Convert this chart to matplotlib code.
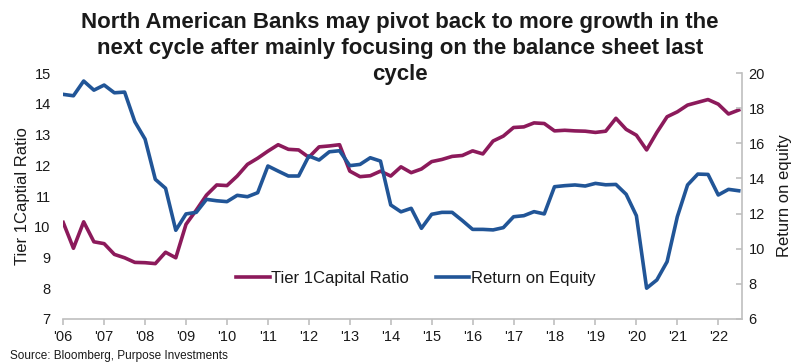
import matplotlib
matplotlib.use("Agg")
import matplotlib.pyplot as plt
import numpy as np

plt.rcParams['font.family'] = ['Liberation Sans', 'DejaVu Sans']

# quarterly series, 2006 Q1 .. 2022 Q3
tier1 = [10.14, 9.30, 10.16, 9.51, 9.45, 9.10, 8.99, 8.84, 8.83, 8.80, 9.17, 8.99,
         10.08, 10.54, 11.03, 11.36, 11.34, 11.65, 12.03, 12.23, 12.46, 12.67, 12.52,
         12.50, 12.26, 12.60, 12.63, 12.67, 11.81, 11.63, 11.66, 11.81, 11.65, 11.95,
         11.76, 11.88, 12.12, 12.19, 12.29, 12.32, 12.47, 12.37, 12.79, 12.95, 13.23,
         13.25, 13.38, 13.36, 13.12, 13.14, 13.12, 13.11, 13.07, 13.11, 13.53, 13.17,
         12.98, 12.50, 13.07, 13.58, 13.74, 13.96, 14.05, 14.14, 13.99, 13.67, 13.80]
roe = [18.79, 18.71, 19.55, 19.03, 19.32, 18.88, 18.92, 17.23, 16.24, 13.95, 13.44, 11.05,
       11.98, 12.07, 12.81, 12.73, 12.68, 13.04, 12.96, 13.19, 14.71, 14.42, 14.14,
       14.14, 15.28, 15.05, 15.52, 15.58, 14.73, 14.80, 15.18, 14.99, 12.49, 12.10,
       12.30, 11.16, 11.96, 12.07, 12.07, 11.60, 11.10, 11.10, 11.07, 11.20, 11.82,
       11.88, 12.11, 11.98, 13.53, 13.59, 13.63, 13.57, 13.72, 13.64, 13.66, 13.10,
       11.88, 7.75, 8.22, 9.26, 11.82, 13.63, 14.25, 14.23, 13.06, 13.38, 13.30]
years = list(range(2006, 2023))
year_labels = ["'%02d" % (y % 100) for y in years]

x = 2006 + np.arange(len(tier1)) / 4.0

purple = '#8C1A5B'
blue = '#215597'
grey = '#BFBFBF'
txt = '#1A1A1A'

fig = plt.figure(figsize=(8, 3.62), dpi=100)
ax = fig.add_axes([0.079, 0.119, 0.848, 0.679])
ax2 = ax.twinx()

l1, = ax.plot(x, tier1, color=purple, lw=2.6, solid_joinstyle='round', label='Tier 1Capital Ratio')
l2, = ax2.plot(x, roe, color=blue, lw=2.6, solid_joinstyle='round', label='Return on Equity')

ax.set_xlim(2006, 2022.57)
ax.set_ylim(7, 15)
ax2.set_ylim(6, 20)
ax.set_yticks(range(7, 16))
ax2.set_yticks(range(6, 21, 2))
ax.set_xticks(years)
ax.set_xticklabels(year_labels)

for a in (ax, ax2):
    for s in ('top', 'left'):
        a.spines[s].set_visible(False)
    a.spines['bottom'].set_color(grey)
    a.spines['right'].set_color(grey)
    a.spines['right'].set_linewidth(1.2)
    a.spines['bottom'].set_linewidth(1.2)
ax.spines['right'].set_visible(False)
ax2.spines['bottom'].set_visible(False)

ax.tick_params(axis='x', direction='out', length=4, color=grey, width=1.2,
               labelsize=10.5, labelcolor=txt, pad=4)
ax.tick_params(axis='y', length=0, labelsize=10.5, labelcolor=txt, pad=9)
ax2.tick_params(axis='y', direction='in', length=4, color=grey, width=1.2,
                labelsize=10.5, labelcolor=txt, pad=5)

ax.set_ylabel('Tier 1Captial Ratio', fontsize=12, color=txt, labelpad=3)
ax2.set_ylabel('Return on equity', fontsize=12, color=txt, labelpad=9)

ax.legend(handles=[l1, l2], loc='center', bbox_to_anchor=(0.52, 0.165), ncol=2,
          frameon=False, fontsize=12, handlelength=2.0, handletextpad=0.1,
          columnspacing=1.6, labelcolor=txt)

fig.text(0.5, 0.968, 'North American Banks may pivot back to more growth in the\n'
         'next cycle after mainly focusing on the balance sheet last\ncycle',
         ha='center', va='top', fontsize=16, fontweight='bold', color=txt,
         linespacing=1.32)
fig.text(0.012, 0.0, 'Source: Bloomberg, Purpose Investments', fontsize=8.5,
         color=txt, ha='left', va='bottom')

fig.savefig('out.png', dpi=100)
